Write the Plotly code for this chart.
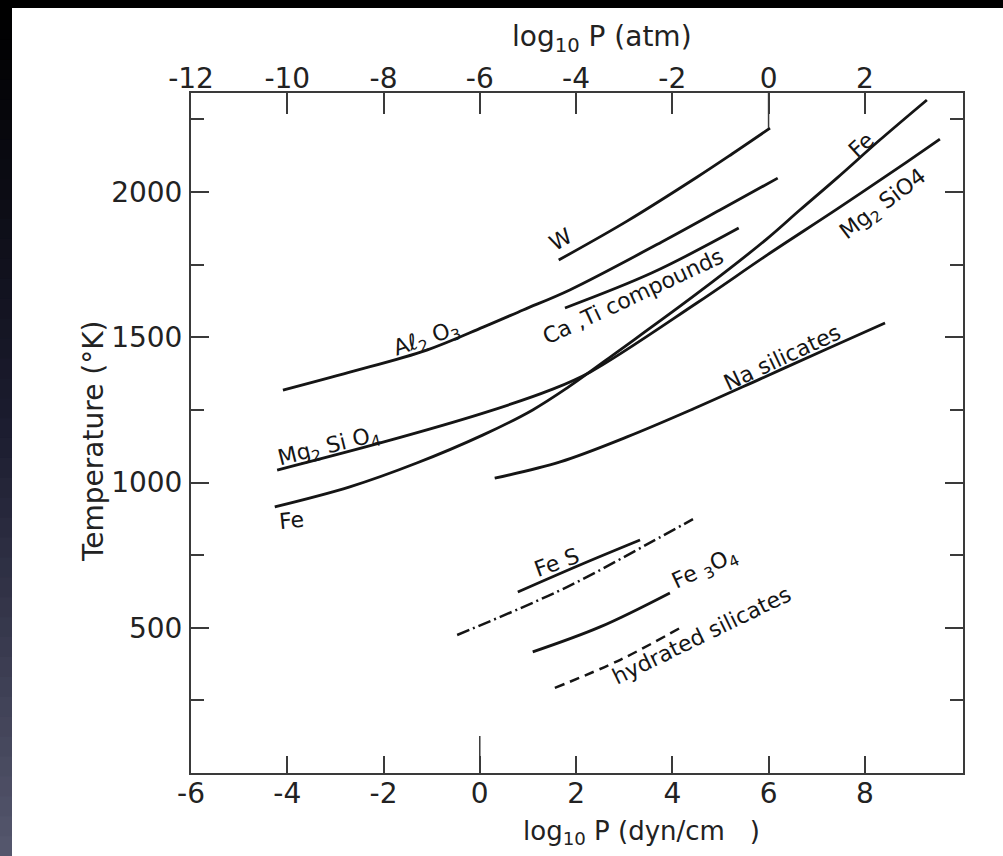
import plotly.graph_objects as go

# ---------------- data (x = log10 P [dyn/cm^2], y = T [K]) ----------------
W_x = [1.64, 3.06, 4.51, 5.24, 6.03]
W_T = [1766, 1900, 2051, 2131, 2220]

Al2O3_x = [-4.09, -2.70, -1.10, 0.07, 0.90, 1.87, 3.78, 4.99, 6.19]
Al2O3_T = [1318, 1380, 1456, 1535, 1594, 1663, 1828, 1938, 2048]

CaTi_x = [1.77, 3.58, 5.38]
CaTi_T = [1601, 1722, 1876]

Fe_x = [-4.26, -2.70, -1.31, 0.07, 1.10, 1.81, 2.91, 4.51, 5.96, 6.65, 7.42, 8.31, 9.29]
Fe_T = [916, 985, 1067, 1164, 1250, 1325, 1456, 1650, 1838, 1938, 2048, 2179, 2317]

Mg2SiO4_x = [-4.21, -2.01, 0.07, 1.46, 2.29, 4.51, 5.96, 7.42, 8.87, 9.56]
Mg2SiO4_T = [1043, 1139, 1239, 1318, 1380, 1618, 1782, 1941, 2103, 2182]

Na_x = [0.31, 1.67, 3.06, 4.43, 5.82, 7.21, 8.42]
Na_T = [1015, 1071, 1157, 1253, 1356, 1460, 1549]

FeS_x = [0.79, 2.08, 3.33]
FeS_T = [623, 716, 802]

FeS_dd_x = [-0.47, 1.81, 3.53, 4.43]
FeS_dd_T = [475, 640, 792, 874]

Fe3O4_x = [1.10, 2.50, 3.95]
Fe3O4_T = [417, 503, 620]

Hyd_x = [1.56, 2.91, 4.20]
Hyd_T = [293, 389, 503]

bottom_ticks = [-6, -4, -2, 0, 2, 4, 6, 8]
top_ticks = [-12, -10, -8, -6, -4, -2, 0, 2]
y_ticks = [500, 1000, 1500, 2000]

# curve labels: (text, x, T, angle)
labels = [
    ("W", 1.69, 1835, -30),
    ("Aℓ<sub>2</sub> O<sub>3</sub>", -1.10, 1491, -19),
    ("Ca ,Ti compounds", 3.18, 1639, -25),
    ("Fe", 7.94, 2162, -42),
    ("Mg<sub>2</sub> SiO4", 8.38, 1955, -37),
    ("Mg<sub>2</sub> Si O<sub>4</sub>", -3.13, 1122, -14),
    ("Fe", -3.92, 871, -6),
    ("Na silicates", 6.28, 1432, -25),
    ("Fe S", 1.60, 723, -20),
    ("Fe <sub>3</sub>O<sub>4</sub>", 4.68, 699, -25),
    ("hydrated silicates", 4.61, 472, -26),
]

# ---------------- figure ----------------
W, H = 1003, 856
L, R, T, B = 191, 40, 93, 83
PW, PH = W - L - R, H - T - B

def px(xp):
    return (xp - L) / PW

def py(yp):
    return (H - B - yp) / PH

FONT = "DejaVu Sans"
INK = "#151515"
AX = "#3a3a3a"

fig = go.Figure()

def curve(x, y, dash="solid", width=2.8):
    fig.add_trace(go.Scatter(x=x, y=y, mode="lines",
                             line=dict(color=INK, width=width, dash=dash, shape="spline", smoothing=1.0),
                             showlegend=False, hoverinfo="skip"))

curve(W_x, W_T)
curve(Al2O3_x, Al2O3_T)
curve(CaTi_x, CaTi_T)
curve(Fe_x, Fe_T)
curve(Mg2SiO4_x, Mg2SiO4_T)
curve(Na_x, Na_T)
curve(FeS_x, FeS_T)
curve(FeS_dd_x, FeS_dd_T, dash="13px,4px,2px,4px", width=2.5)
curve(Fe3O4_x, Fe3O4_T)
curve(Hyd_x, Hyd_T, dash="10px,6px", width=2.5)

# invisible trace to bring in top/right axes
fig.add_trace(go.Scatter(x=[None], y=[None], xaxis="x2", yaxis="y2",
                         showlegend=False, hoverinfo="skip"))

tickfont = dict(family=FONT, size=28, color="#222")

fig.update_layout(
    width=W, height=H,
    margin=dict(l=L, r=R, t=T, b=B, pad=0),
    paper_bgcolor="white", plot_bgcolor="white",
    showlegend=False,
    xaxis=dict(range=[-6, 10.04], tickvals=bottom_ticks,
               ticktext=[str(v) for v in bottom_ticks],
               showgrid=False, zeroline=False, showline=True, linecolor=AX, linewidth=2,
               ticks="inside", ticklen=17, tickwidth=1.5, tickcolor=AX,
               tickfont=tickfont, ticklabelstandoff=-6),
    xaxis2=dict(range=[-12, 4.04], tickvals=top_ticks,
                ticktext=[str(v) for v in top_ticks],
                overlaying="x", side="top", anchor="y2",
                showgrid=False, zeroline=False, showline=True, linecolor=AX, linewidth=2,
                ticks="inside", ticklen=21, tickwidth=1.5, tickcolor=AX,
                tickfont=tickfont, ticklabelstandoff=-8),
    yaxis=dict(range=[0, 2341], tickvals=y_ticks,
               ticktext=[str(v) for v in y_ticks],
               showgrid=False, zeroline=False, showline=True, linecolor=AX, linewidth=2,
               ticks="inside", ticklen=18, tickwidth=1.5, tickcolor=AX,
               minor=dict(tickmode="linear", tick0=0, dtick=250, ticks="inside",
                          ticklen=13, tickwidth=1.5, tickcolor=AX, showgrid=False),
               tickfont=tickfont, ticklabelstandoff=1),
    yaxis2=dict(range=[0, 2341], overlaying="y", side="right", anchor="x2",
                tickvals=y_ticks, showticklabels=False,
                showgrid=False, zeroline=False, showline=True, linecolor=AX, linewidth=2,
                ticks="inside", ticklen=18, tickwidth=1.5, tickcolor=AX,
                minor=dict(tickmode="linear", tick0=0, dtick=250, ticks="inside",
                           ticklen=13, tickwidth=1.5, tickcolor=AX, showgrid=False)),
)

# longer zero ticks
fig.add_shape(type="line", xref="x", yref="paper", x0=0, x1=0, y0=0, y1=37 / PH,
              line=dict(color=AX, width=1.5))
fig.add_shape(type="line", xref="x2", yref="paper", x0=0, x1=0, y0=1, y1=1 - 35 / PH,
              line=dict(color=AX, width=1.5))

# dark photo border (left strip gradient + top strip)
n = 43
c0, c1, c2 = (0, 0, 0), (28, 29, 48), (84, 86, 108)
for i in range(n):
    t = i / (n - 1)
    if t < 0.5:
        a, b, f = c0, c1, t / 0.5
    else:
        a, b, f = c1, c2, (t - 0.5) / 0.5
    col = "rgb(%d,%d,%d)" % tuple(int(a[k] + (b[k] - a[k]) * f) for k in range(3))
    y_top = i * H / n
    y_bot = (i + 1) * H / n + 1
    fig.add_shape(type="rect", xref="paper", yref="paper",
                  x0=px(0), x1=px(12), y0=py(y_bot), y1=py(y_top),
                  fillcolor=col, line=dict(width=0), layer="above")
fig.add_shape(type="rect", xref="paper", yref="paper",
              x0=px(0), x1=px(W), y0=py(8), y1=py(0),
              fillcolor="black", line=dict(width=0), layer="above")

# axis titles
fig.add_annotation(text="log<sub>10</sub> P (atm)", xref="paper", yref="paper",
                   x=px(602), y=py(38), xanchor="center", yanchor="middle", showarrow=False,
                   font=dict(family=FONT, size=28, color="#222"))
fig.add_annotation(text="log<sub>10</sub> P (dyn/cm\u00a0\u00a0\u00a0)", xref="paper", yref="paper",
                   x=px(641), y=py(833), xanchor="center", yanchor="middle", showarrow=False,
                   font=dict(family=FONT, size=26, color="#222"))
fig.add_annotation(text="Temperature (°K)", xref="paper", yref="paper",
                   x=px(94), y=py(442), xanchor="center", yanchor="middle",
                   showarrow=False, textangle=-90,
                   font=dict(family=FONT, size=28, color="#222"))

# curve labels
for txt, lx, lt, ang in labels:
    fig.add_annotation(text=txt, x=lx, y=lt, xref="x", yref="y", showarrow=False,
                       xanchor="center", yanchor="middle",
                       textangle=ang, font=dict(family=FONT, size=22, color=INK))

fig.write_html("out.html")
